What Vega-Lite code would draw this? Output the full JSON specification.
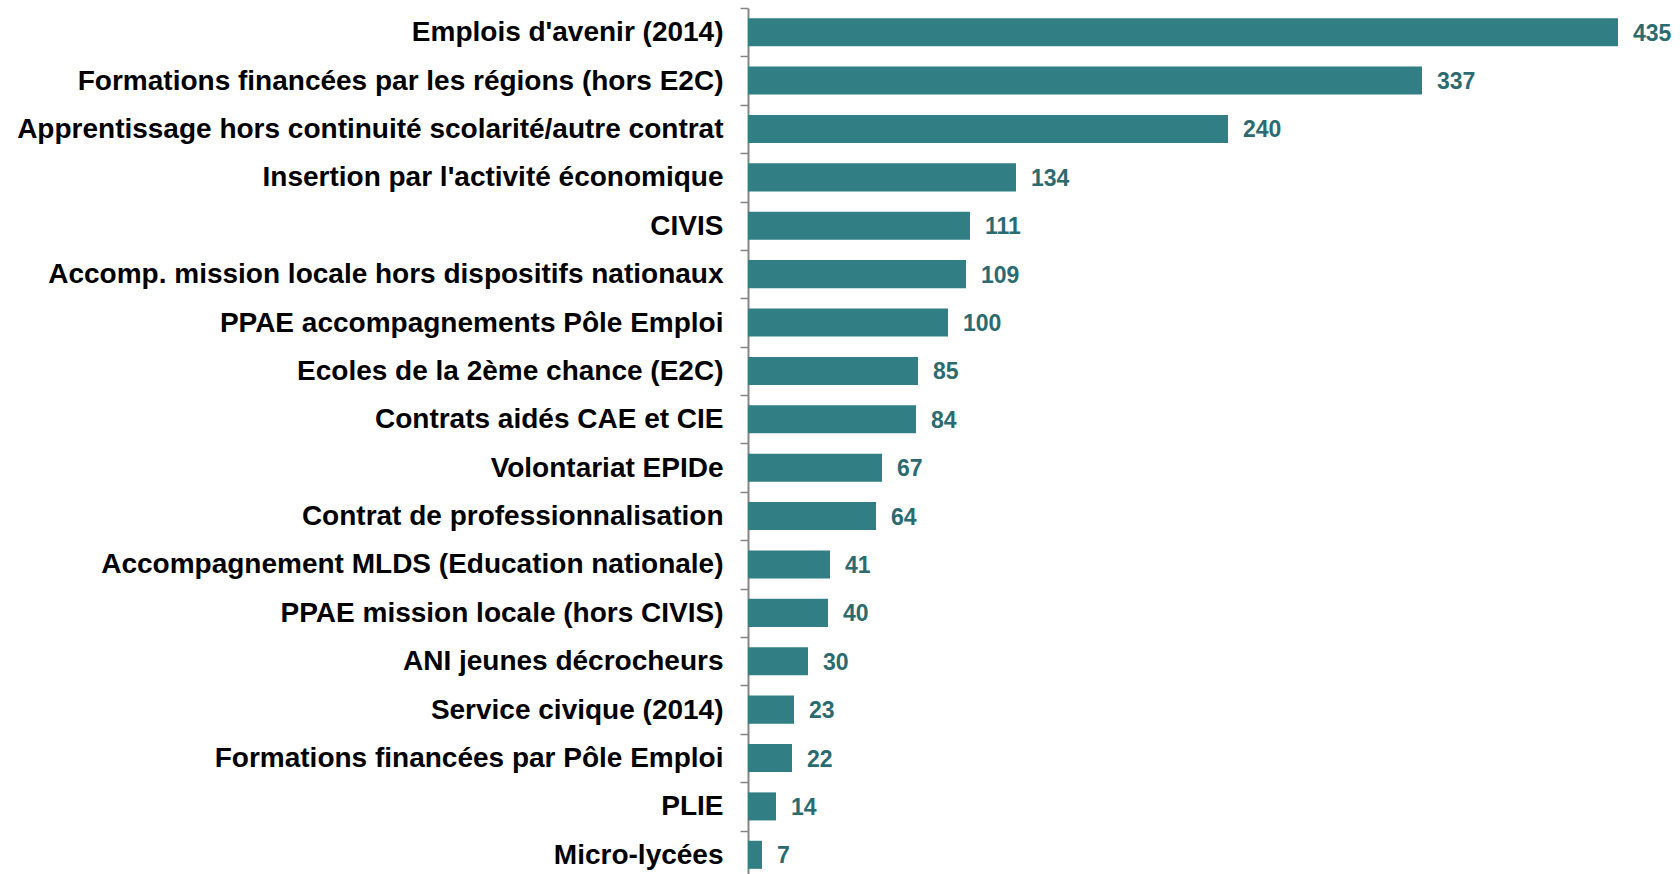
{
  "$schema": "https://vega.github.io/schema/vega-lite/v6.json",
  "autosize": "none",
  "width": 870,
  "height": 871,
  "padding": {"left": 748, "top": 8, "right": 62, "bottom": 0},
  "background": "white",
  "config": {"view": {"stroke": null}, "font": "Liberation Sans"},
  "data": {
    "values": [
      {"label": "Emplois d'avenir (2014)", "value": 435},
      {"label": "Formations financées par les régions (hors E2C)", "value": 337},
      {"label": "Apprentissage hors continuité scolarité/autre contrat", "value": 240},
      {"label": "Insertion par l'activité économique", "value": 134},
      {"label": "CIVIS", "value": 111},
      {"label": "Accomp. mission locale hors dispositifs nationaux", "value": 109},
      {"label": "PPAE accompagnements Pôle Emploi", "value": 100},
      {"label": "Ecoles de la 2ème chance (E2C)", "value": 85},
      {"label": "Contrats aidés CAE et CIE", "value": 84},
      {"label": "Volontariat EPIDe", "value": 67},
      {"label": "Contrat de professionnalisation", "value": 64},
      {"label": "Accompagnement MLDS (Education nationale)", "value": 41},
      {"label": "PPAE mission locale (hors CIVIS)", "value": 40},
      {"label": "ANI jeunes décrocheurs", "value": 30},
      {"label": "Service civique (2014)", "value": 23},
      {"label": "Formations financées par Pôle Emploi", "value": 22},
      {"label": "PLIE", "value": 14},
      {"label": "Micro-lycées", "value": 7}
    ]
  },
  "encoding": {
    "y": {
      "field": "label",
      "type": "nominal",
      "sort": null,
      "scale": {"paddingInner": 0.42, "paddingOuter": 0.21},
      "axis": {
        "title": null,
        "bandPosition": 0,
        "tickOffset": -10.2,
        "labelOffset": 10.7,
        "tickExtra": false,
        "domainColor": "#868686",
        "domainWidth": 2,
        "tickColor": "#868686",
        "tickWidth": 1.5,
        "tickSize": 8,
        "labelPadding": 17,
        "labelFont": "Liberation Sans",
        "labelFontSize": 28,
        "labelFontWeight": "bold",
        "labelColor": "#000000",
        "labelLimit": 900
      }
    },
    "x": {
      "field": "value",
      "type": "quantitative",
      "scale": {"domain": [0, 435], "nice": false, "zero": true},
      "axis": null
    }
  },
  "layer": [
    {"mark": {"type": "bar", "color": "#317f84"}},
    {
      "mark": {
        "type": "text",
        "align": "left",
        "baseline": "middle",
        "dx": 15,
        "dy": 1.5,
        "font": "Liberation Sans",
        "fontSize": 23,
        "fontWeight": "bold",
        "color": "#2b6b70"
      },
      "encoding": {"text": {"field": "value", "type": "quantitative"}}
    }
  ]
}
